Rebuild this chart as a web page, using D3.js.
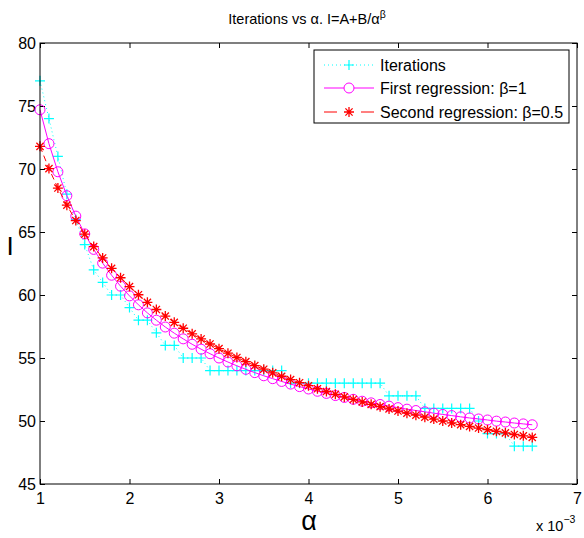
<!DOCTYPE html>
<html lang="en">

<head>
    <meta charset="UTF-8">
    <title>Iterations vs alpha</title>
    <script src="https://d3js.org/d3.v7.min.js"></script>
    <style>
        body {
            margin: 0;
            background: #fff;
        }

        svg {
            font-family: "Liberation Sans", Arial, sans-serif;
        }
    </style>
</head>

<body>
    <script>
        // chart size
        const width = 584;
        const height = 538;

        // alpha values (x 10^-3)
        const alpha = [1.0, 1.1, 1.2, 1.3, 1.4, 1.5, 1.6, 1.7, 1.8, 1.9,
            2.0, 2.1, 2.2, 2.3, 2.4, 2.5, 2.6, 2.7, 2.8, 2.9,
            3.0, 3.1, 3.2, 3.3, 3.4, 3.5, 3.6, 3.7, 3.8, 3.9,
            4.0, 4.1, 4.2, 4.3, 4.4, 4.5, 4.6, 4.7, 4.8, 4.9,
            5.0, 5.1, 5.2, 5.3, 5.4, 5.5, 5.6, 5.7, 5.8, 5.9,
            6.0, 6.1, 6.2, 6.3, 6.4, 6.5];

        // measured iterations
        const iterations = [77, 74, 71, 68, 66, 64, 62, 61, 60, 60,
            59, 58, 58, 57, 56, 56, 55, 55, 55, 54,
            54, 54, 54, 54, 54, 54, 54, 54, 53, 53,
            53, 53, 53, 53, 53, 53, 53, 53, 53, 52,
            52, 52, 52, 51, 51, 51, 51, 51, 51, 50,
            49, 49, 49, 48, 48, 48];

        // first regression, beta = 1
        const firstRegression = [74.70, 72.01, 69.78, 67.88, 66.26, 64.85, 63.62, 62.53, 61.57, 60.70,
            59.93, 59.22, 58.58, 58.00, 57.46, 56.97, 56.52, 56.09, 55.70, 55.34,
            55.00, 54.68, 54.38, 54.10, 53.84, 53.59, 53.36, 53.14, 52.93, 52.73,
            52.54, 52.36, 52.19, 52.02, 51.87, 51.72, 51.57, 51.44, 51.31, 51.18,
            51.06, 50.94, 50.83, 50.73, 50.62, 50.52, 50.43, 50.33, 50.24, 50.16,
            50.08, 49.99, 49.92, 49.84, 49.77, 49.70];

        // second regression, beta = 0.5
        const secondRegression = [71.80, 70.03, 68.49, 67.13, 65.91, 64.83, 63.84, 62.94, 62.12, 61.37,
            60.67, 60.02, 59.42, 58.85, 58.33, 57.83, 57.36, 56.92, 56.51, 56.11,
            55.74, 55.38, 55.04, 54.71, 54.40, 54.11, 53.82, 53.55, 53.29, 53.04,
            52.80, 52.56, 52.34, 52.12, 51.91, 51.71, 51.51, 51.32, 51.14, 50.96,
            50.79, 50.62, 50.46, 50.30, 50.15, 50.00, 49.85, 49.71, 49.57, 49.44,
            49.31, 49.18, 49.06, 48.93, 48.82, 48.70];

        const xTicks = [1, 2, 3, 4, 5, 6, 7];
        const yTicks = [45, 50, 55, 60, 65, 70, 75, 80];
        const legendLabels = ["Iterations", "First regression: \u03b2=1", "Second regression: \u03b2=0.5"];

        const svg = d3.select("body").append("svg")
            .attr("width", width)
            .attr("height", height);

        const x = d3.scaleLinear().domain([1, 7]).range([40, 577]);
        const y = d3.scaleLinear().domain([45, 80]).range([484, 43]);

        // axes with inward ticks on all four sides
        const styleAxis = g => {
            g.attr("font-size", 16).attr("font-family", null);
            g.select(".domain").remove();
            g.selectAll("line").attr("stroke", "#000");
            g.selectAll("text").attr("fill", "#000");
        };

        svg.append("g")
            .attr("transform", `translate(0,${y(45)})`)
            .call(d3.axisBottom(x).tickValues(xTicks).tickFormat(d3.format("d")).tickSize(-5).tickPadding(9))
            .call(styleAxis);

        svg.append("g")
            .attr("transform", `translate(0,${y(80)})`)
            .call(d3.axisTop(x).tickValues(xTicks).tickSize(-5).tickFormat(""))
            .call(styleAxis);

        svg.append("g")
            .attr("transform", `translate(${x(1)},0)`)
            .call(d3.axisLeft(y).tickValues(yTicks).tickFormat(d3.format("d")).tickSize(-5).tickPadding(4))
            .call(styleAxis);

        svg.append("g")
            .attr("transform", `translate(${x(7)},0)`)
            .call(d3.axisRight(y).tickValues(yTicks).tickSize(-5).tickFormat(""))
            .call(styleAxis);

        // marker shapes
        const plusPath = "M-5,0H5M0,-5V5";
        const starPath = "M-5,0H5M0,-5V5M-3.6,-3.6L3.6,3.6M-3.6,3.6L3.6,-3.6";

        const line = d3.line()
            .x((d, i) => x(alpha[i]))
            .y(d => y(d));

        // iterations: cyan dotted line with plus markers
        svg.append("path")
            .datum(iterations)
            .attr("d", line)
            .attr("fill", "none")
            .attr("stroke", "#00ffff")
            .attr("stroke-dasharray", "1,3");

        svg.append("g").selectAll("path")
            .data(iterations)
            .join("path")
            .attr("transform", (d, i) => `translate(${x(alpha[i])},${y(d)})`)
            .attr("d", plusPath)
            .attr("stroke", "#00ffff")
            .attr("stroke-width", 1.2);

        // first regression: magenta solid line with circles
        svg.append("path")
            .datum(firstRegression)
            .attr("d", line)
            .attr("fill", "none")
            .attr("stroke", "#ff00ff");

        svg.append("g").selectAll("circle")
            .data(firstRegression)
            .join("circle")
            .attr("cx", (d, i) => x(alpha[i]))
            .attr("cy", d => y(d))
            .attr("r", 5)
            .attr("fill", "none")
            .attr("stroke", "#ff00ff");

        // second regression: red dashed line with stars
        svg.append("path")
            .datum(secondRegression)
            .attr("d", line)
            .attr("fill", "none")
            .attr("stroke", "#ff0000")
            .attr("stroke-dasharray", "6,4");

        svg.append("g").selectAll("path")
            .data(secondRegression)
            .join("path")
            .attr("transform", (d, i) => `translate(${x(alpha[i])},${y(d)})`)
            .attr("d", starPath)
            .attr("stroke", "#ff0000")
            .attr("stroke-width", 1.3);

        // plot box
        svg.append("rect")
            .attr("x", x(1))
            .attr("y", y(80))
            .attr("width", x(7) - x(1))
            .attr("height", y(45) - y(80))
            .attr("fill", "none")
            .attr("stroke", "#000");

        // legend
        const legend = svg.append("g").attr("transform", "translate(314,50)");
        legend.append("rect")
            .attr("width", 255)
            .attr("height", 73)
            .attr("fill", "#fff")
            .attr("stroke", "#000");

        const rowY = [15, 38, 62];
        legendLabels.forEach((label, i) => {
            const row = legend.append("g").attr("transform", `translate(0,${rowY[i]})`);
            if (i === 0) {
                row.append("line").attr("x1", 10).attr("x2", 60)
                    .attr("stroke", "#00ffff").attr("stroke-dasharray", "1,3");
                row.append("path").attr("transform", "translate(35,0)")
                    .attr("d", plusPath).attr("stroke", "#00ffff").attr("stroke-width", 1.2);
            } else if (i === 1) {
                row.append("line").attr("x1", 10).attr("x2", 60).attr("stroke", "#ff00ff");
                row.append("circle").attr("cx", 35).attr("r", 5)
                    .attr("fill", "#fff").attr("stroke", "#ff00ff");
            } else {
                row.append("line").attr("x1", 10).attr("x2", 60)
                    .attr("stroke", "#ff0000").attr("stroke-dasharray", "13,24");
                row.append("path").attr("transform", "translate(35,0)")
                    .attr("d", starPath).attr("stroke", "#ff0000").attr("stroke-width", 1.3);
            }
            row.append("text")
                .attr("x", 66)
                .attr("y", 5.5)
                .attr("font-size", 16)
                .text(label);
        });

        // title
        const title = svg.append("text")
            .attr("x", 307)
            .attr("y", 24)
            .attr("text-anchor", "middle")
            .attr("font-size", 14.5);
        title.append("tspan").text("Iterations vs \u03b1. I=A+B/\u03b1");
        title.append("tspan").attr("dy", -6).attr("font-size", 10.5).text("\u03b2");

        // axis labels
        svg.append("text")
            .attr("x", 309)
            .attr("y", 530)
            .attr("text-anchor", "middle")
            .attr("font-size", 27)
            .text("\u03b1");

        svg.append("text")
            .attr("x", 10)
            .attr("y", 255)
            .attr("text-anchor", "middle")
            .attr("font-size", 26)
            .text("I");

        // x multiplier
        const mult = svg.append("text")
            .attr("x", 536)
            .attr("y", 531)
            .attr("font-size", 14.5);
        mult.append("tspan").text("x 10");
        mult.append("tspan").attr("dy", -8).attr("font-size", 10.5).text("\u22123");
    </script>
</body>

</html>
